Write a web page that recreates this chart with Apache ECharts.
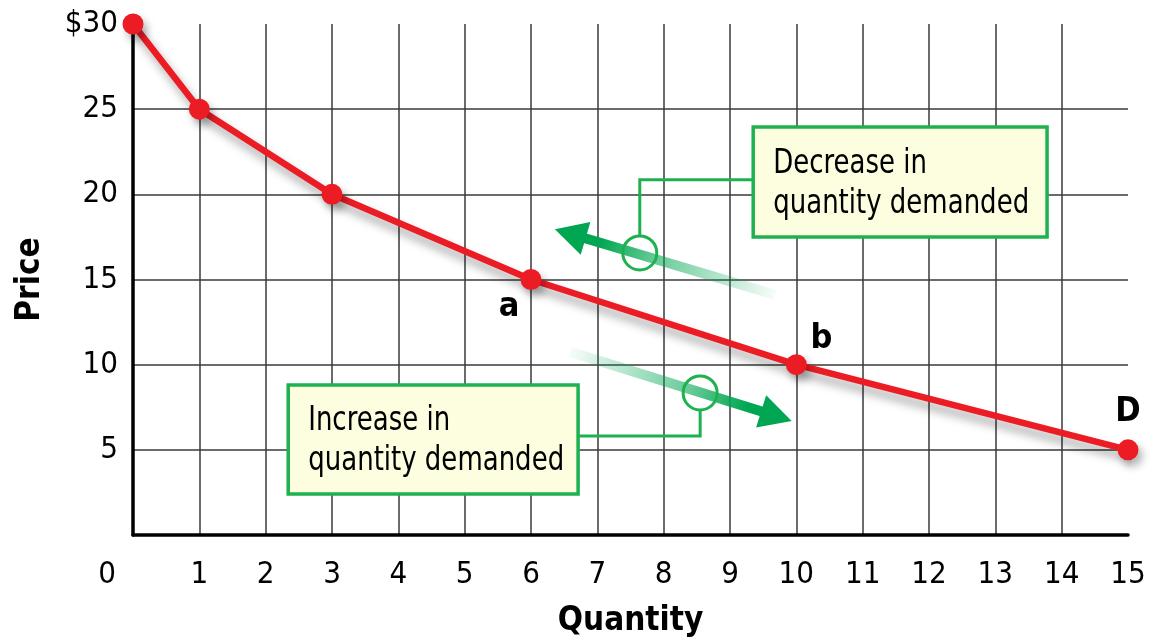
<!DOCTYPE html>
<html><head><meta charset="utf-8">
<script src="https://cdn.jsdelivr.net/npm/echarts@6/dist/echarts.min.js"></script>
<style>html,body{margin:0;padding:0;background:#fff}#c{width:1150px;height:642px}</style>
</head><body><div id="c"></div>
<script>
// ---- data ----
const quantity = [0, 1, 3, 6, 10, 15];
const price = [30, 25, 20, 15, 10, 5];
const pointLabels = ['', '', '', 'a', 'b', 'D'];
const xTickMax = 15;
const yTickMax = 30;
const boxTexts = [['Decrease in', 'quantity demanded'], ['Increase in', 'quantity demanded']];

// annotation anchors (data space)
const decArrow = [[9.68, 14.1], [6.36, 17.95]];
const decCircle = [7.64, 16.56];
const decBox = [[9.35, 23.96], [13.78, 17.5]];
const decLink = [[7.64, 20.85]];
const incArrow = [[6.59, 10.75], [9.93, 6.7]];
const incCircle = [8.55, 8.34];
const incBox = [[2.34, 8.81], [6.71, 2.41]];
const incLink = [[8.55, 5.81]];

const FONT = '"DejaVu Sans Condensed", "Liberation Sans Narrow", sans-serif';
const RED = '#ec1c24', GREEN = '#00a651', BORDER = '#1eb14f', FILL = '#fdfde0';

const labelOffsets = {a: [-22, 28], b: [25, -25], D: [0, -38]};

const chart = echarts.init(document.getElementById('c'), null, {renderer: 'canvas'});
const seriesData = quantity.map((q, i) => {
  const lab = pointLabels[i];
  const item = {value: [q, price[i]]};
  if (lab) {
    item.label = {show: true, formatter: lab, position: 'inside', offset: labelOffsets[lab],
      color: '#000', fontFamily: FONT, fontWeight: 'bold', fontSize: 34};
  }
  return item;
});

chart.setOption({
  animation: false,
  grid: {left: 133, right: 22, top: 24, bottom: 107, containLabel: false, outerBoundsMode: 'none'},
  xAxis: {
    type: 'value', min: 0, max: xTickMax, interval: 1,
    name: 'Quantity', nameLocation: 'middle', nameGap: 70,
    nameTextStyle: {fontFamily: FONT, fontWeight: 'bold', fontSize: 33, color: '#000'},
    axisLine: {show: true, onZero: false, lineStyle: {color: '#000', width: 3.5}},
    axisTick: {show: false},
    axisLabel: {
      margin: 24, color: '#000', fontFamily: FONT, fontSize: 31,
      formatter: v => v === 0 ? '{z|0}' : String(v),
      rich: {z: {fontFamily: FONT, fontSize: 31, color: '#000', padding: [0, 52, 0, 0]}}
    },
    splitLine: {show: true, showMinLine: false, showMaxLine: false, lineStyle: {color: '#3a3a3a', width: 1.5}}
  },
  yAxis: {
    type: 'value', min: 0, max: yTickMax, interval: 5,
    name: 'Price', nameLocation: 'middle', nameGap: 86, nameRotate: 90,
    nameTextStyle: {fontFamily: FONT, fontWeight: 'bold', fontSize: 33, color: '#000'},
    axisLine: {show: true, onZero: false, lineStyle: {color: '#000', width: 3.5}},
    axisTick: {show: false},
    axisLabel: {
      margin: 15, color: '#000', fontFamily: FONT, fontSize: 31,
      formatter: v => v === 0 ? '' : (v === yTickMax ? '$' + v : String(v))
    },
    splitLine: {show: true, showMinLine: false, showMaxLine: false, lineStyle: {color: '#3a3a3a', width: 1.5}}
  },
  series: [{
    type: 'line', data: seriesData, symbol: 'circle', symbolSize: 21, z: 5,
    itemStyle: {color: RED, shadowColor: 'rgba(0,0,0,0.3)', shadowBlur: 8, shadowOffsetX: 4, shadowOffsetY: 6},
    lineStyle: {color: RED, width: 6.5, shadowColor: 'rgba(0,0,0,0.35)', shadowBlur: 10, shadowOffsetX: 4, shadowOffsetY: 8}
  }]
});

function px(p) { return chart.convertToPixel({gridIndex: 0}, p); }

function arrow(pts) {
  const a = px(pts[0]), b = px(pts[1]);
  const dx = b[0] - a[0], dy = b[1] - a[1], len = Math.hypot(dx, dy);
  const ux = dx / len, uy = dy / len, nx = -uy, ny = ux;
  const L = 32, W = 17;
  const base = [b[0] - ux * L, b[1] - uy * L];
  return [
    {type: 'line', z: 20, shape: {x1: a[0], y1: a[1], x2: base[0] + ux * 4, y2: base[1] + uy * 4},
      style: {lineWidth: 10, stroke: new echarts.graphic.LinearGradient(a[0], a[1], b[0], b[1], [
        {offset: 0, color: 'rgba(0,166,81,0.03)'},
        {offset: 0.55, color: 'rgba(0,166,81,0.6)'},
        {offset: 0.8, color: 'rgba(0,166,81,1)'},
        {offset: 1, color: 'rgba(0,166,81,1)'}], true)}},
    {type: 'polygon', z: 21, shape: {points: [b, [base[0] + nx * W, base[1] + ny * W], [base[0] - nx * W, base[1] - ny * W]]},
      style: {fill: GREEN}}
  ];
}

function circle(c) {
  const p = px(c);
  return {type: 'circle', z: 22, shape: {cx: p[0], cy: p[1], r: 17}, style: {fill: 'none', stroke: BORDER, lineWidth: 3}};
}

function box(b, lines) {
  const p1 = px(b[0]), p2 = px(b[1]);
  const x = Math.min(p1[0], p2[0]), y = Math.min(p1[1], p2[1]);
  const w = Math.abs(p2[0] - p1[0]), h = Math.abs(p2[1] - p1[1]);
  return [
    {type: 'rect', z: 23, shape: {x: x, y: y, width: w, height: h}, style: {fill: FILL, stroke: BORDER, lineWidth: 3.5}},
    {type: 'text', z: 24, x: x + 20, y: y + h / 2 + 2, scaleX: 0.85,
      style: {text: lines.join('\n'), font: '34px ' + FONT, fill: '#000', lineHeight: 40, verticalAlign: 'middle', align: 'left'}}
  ];
}

function link(circ, corner, bx, fromTop, toLeft) {
  const c = px(circ), k = px(corner);
  const p1 = px(bx[0]), p2 = px(bx[1]);
  const edgeX = toLeft ? Math.min(p1[0], p2[0]) : Math.max(p1[0], p2[0]);
  const startY = fromTop ? c[1] - 17 : c[1] + 17;
  return {type: 'polyline', z: 22, shape: {points: [[c[0], startY], [c[0], k[1]], [edgeX, k[1]]]},
    style: {stroke: BORDER, lineWidth: 3, fill: 'none'}};
}

const g = [].concat(
  arrow(decArrow), [circle(decCircle), link(decCircle, decLink[0], decBox, true, true)], box(decBox, boxTexts[0]),
  arrow(incArrow), [circle(incCircle), link(incCircle, incLink[0], incBox, false, false)], box(incBox, boxTexts[1])
);
chart.setOption({graphic: g});
</script>
</body></html>
